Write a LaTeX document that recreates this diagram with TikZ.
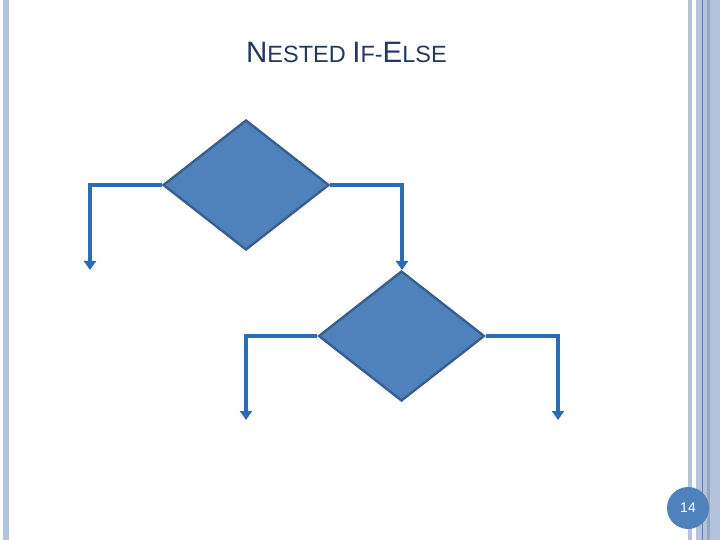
\documentclass[tikz,border=0pt]{standalone}
\usepackage{fontspec}
\setmainfont{Liberation Sans}
\usetikzlibrary{shapes.geometric,arrows.meta}
\definecolor{bar}{HTML}{B4C3DC}
\definecolor{barline}{HTML}{5A7FB8}
\definecolor{dfill}{HTML}{4F81BD}
\definecolor{dline}{HTML}{3A5F8D}
\definecolor{conn}{HTML}{2E6BB6}
\definecolor{titlec}{HTML}{24395E}
\tikzset{
  decision/.style={diamond,draw=dline,fill=dfill,line width=2.4bp,inner sep=0pt,minimum width=166bp,minimum height=130bp},
  flow/.style={draw=conn,line width=3.4bp,-{Triangle[width=12bp,length=9bp]}},
}
\newcommand{\bigc}{\fontsize{29.5bp}{31bp}\selectfont}
\newcommand{\smallc}{\fontsize{23.5bp}{25bp}\selectfont}
\begin{document}
\begin{tikzpicture}[x=1bp,y=-1bp]
\useasboundingbox (0,0) rectangle (720,540);
\fill[white] (0,0) rectangle (720,540);
% borders
\fill[bar] (3,0) rectangle (9,540);
\fill[bar] (688,0) rectangle (692,540);
\fill[bar] (696,0) rectangle (720,540);
\fill[barline] (702,0) rectangle (703,540);
\fill[bar!85!black] (707,0) rectangle (710,540);
% title
\node[text=titlec,anchor=base,inner sep=0pt] (title) at (346.5,63) {\bigc N\smallc ESTED \bigc I\smallc F-\bigc E\smallc LSE};
% diamonds
\node[decision] (d1) at (246,185) {};
\node[decision] (d2) at (401.5,336) {};
\coordinate (e1) at (90,270);
\coordinate (e2) at (402,270);
\coordinate (e3) at (246,420);
\coordinate (e4) at (558,420);
\draw[flow] (d1.west) -| (e1);
\draw[flow] (d1.east) -| (e2);
\draw[flow] (d2.west) -| (e3);
\draw[flow] (d2.east) -| (e4);
% page number
\node[circle,fill=dfill,minimum size=42bp,inner sep=0pt,text=white] (pg) at (688,508) {\fontsize{14bp}{16bp}\selectfont 14};
\end{tikzpicture}
\end{document}
